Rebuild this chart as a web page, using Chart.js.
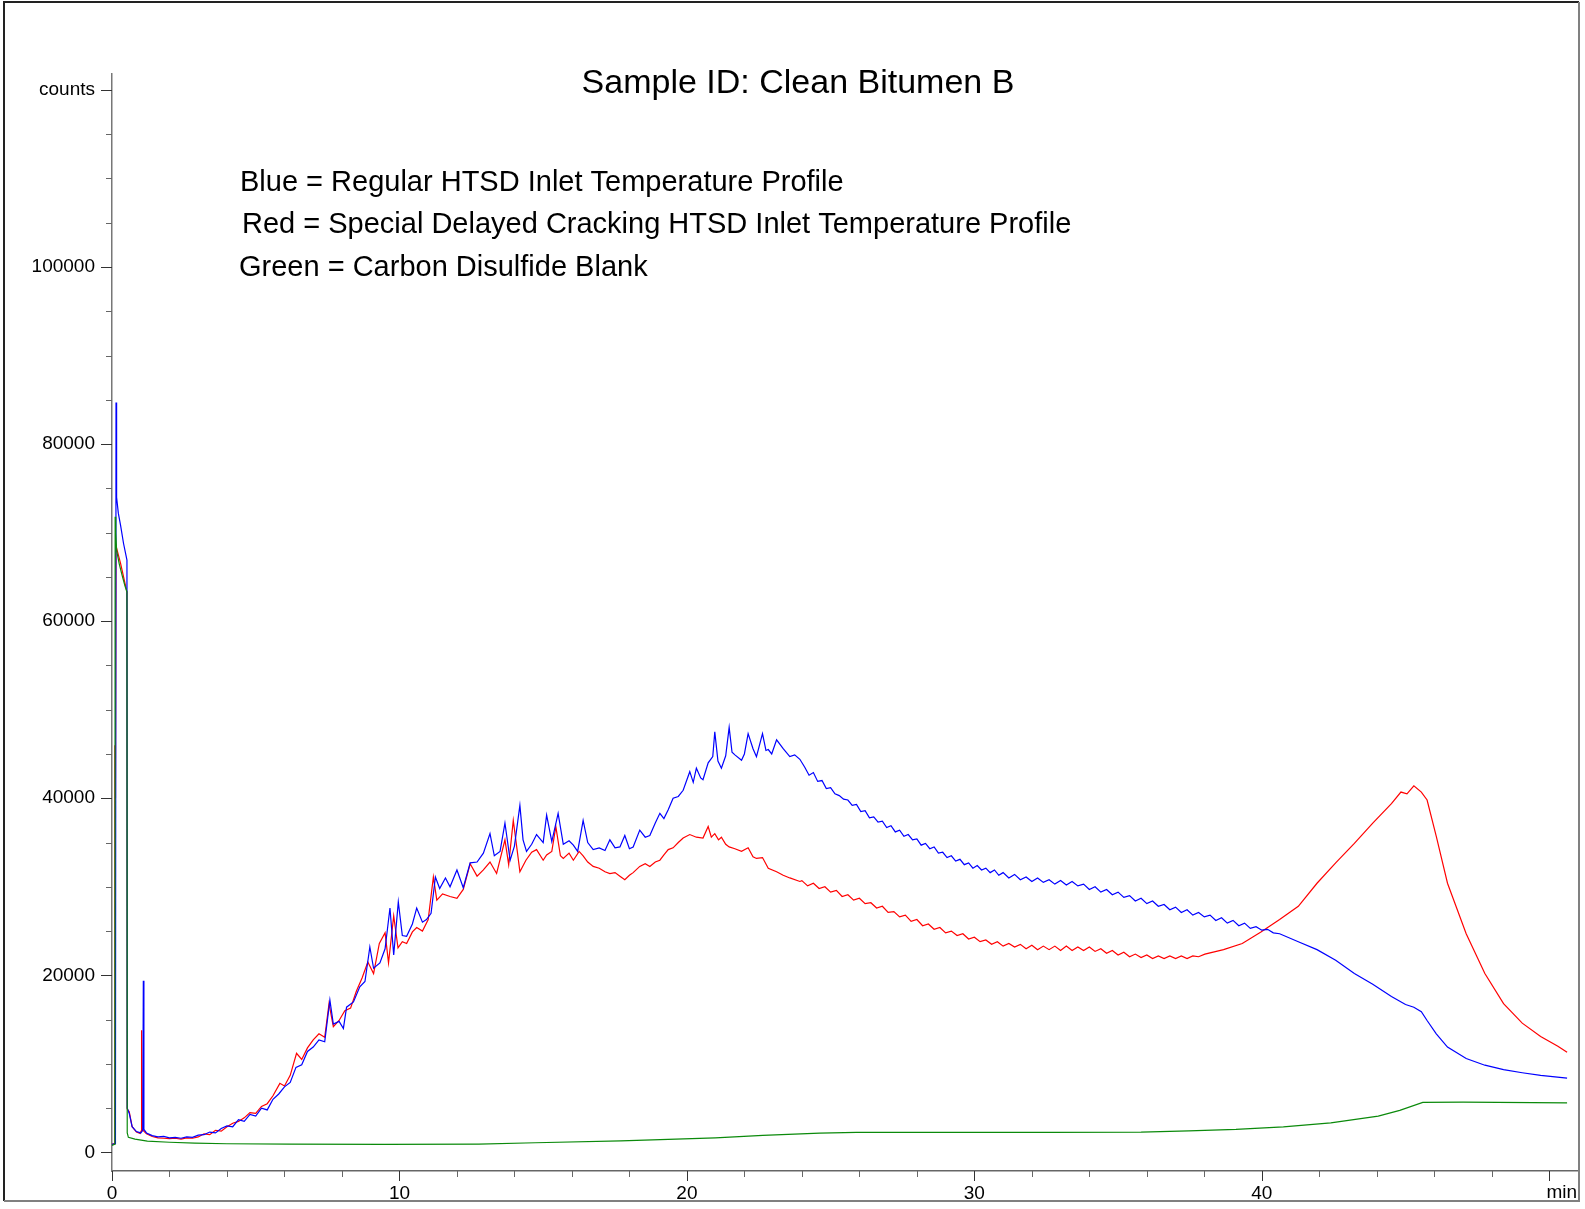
<!DOCTYPE html>
<html>
<head>
<meta charset="utf-8">
<script src="https://cdn.jsdelivr.net/npm/chart.js@4.4.0/dist/chart.umd.min.js"></script>
<style>
  html, body { margin: 0; padding: 0; background: #fff; }
  canvas { display: block; }
</style>
</head>
<body>
<canvas id="chart" width="1585" height="1209"></canvas>
<script>
// retention time (min) and detector counts
const blueTime = [
  0.00, 0.12, 0.14, 0.15, 0.17, 0.22, 0.30, 0.40, 0.52, 0.53, 0.60, 0.70, 0.85, 1.00, 1.07, 1.09, 1.11, 1.20,
  1.40, 1.60, 1.80, 2.00, 2.20, 2.40, 2.60, 2.80, 3.00, 3.20, 3.40, 3.60, 3.80, 4.00, 4.20, 4.40, 4.60, 4.80,
  5.00, 5.20, 5.40, 5.60, 5.80, 6.00, 6.20, 6.40, 6.60, 6.80, 7.00, 7.20, 7.40, 7.58, 7.70, 7.90, 8.05, 8.16,
  8.40, 8.62, 8.80, 8.97, 9.10, 9.32, 9.50, 9.67, 9.80, 9.96, 10.10, 10.25, 10.45, 10.60, 10.80, 10.94, 11.10,
  11.25, 11.40, 11.60, 11.76, 12.00, 12.22, 12.46, 12.70, 12.92, 13.15, 13.30, 13.50, 13.67, 13.85, 14.00,
  14.19, 14.30, 14.42, 14.60, 14.77, 15.00, 15.12, 15.30, 15.52, 15.70, 15.90, 16.05, 16.20, 16.39, 16.55,
  16.74, 16.95, 17.15, 17.32, 17.50, 17.67, 17.84, 18.00, 18.13, 18.36, 18.55, 18.71, 18.90, 19.06, 19.20,
  19.35, 19.52, 19.70, 19.87, 20.10, 20.22, 20.33, 20.48, 20.56, 20.74, 20.90, 20.97, 21.08, 21.20, 21.35,
  21.47, 21.57, 21.67, 21.90, 22.00, 22.13, 22.30, 22.42, 22.63, 22.75, 22.83, 22.95, 23.12, 23.35, 23.58,
  23.75, 23.93,
  24.10, 24.25, 24.40, 24.55, 24.70, 24.85, 25.00, 25.15, 25.30, 25.45, 25.60, 25.75, 25.90, 26.05, 26.20,
  26.35, 26.50, 26.65, 26.80, 26.95, 27.10, 27.25, 27.40, 27.55, 27.70, 27.85, 28.00, 28.15, 28.30, 28.45,
  28.60, 28.75, 28.90, 29.05, 29.20, 29.35, 29.50, 29.65, 29.80, 29.95, 30.10, 30.25, 30.40, 30.55, 30.70,
  30.85, 31.00, 31.20, 31.40, 31.60, 31.80, 32.00, 32.20, 32.40, 32.60, 32.80, 33.00, 33.20, 33.40, 33.60,
  33.80, 34.00, 34.20, 34.40, 34.60, 34.80, 35.00, 35.20, 35.40, 35.60, 35.80, 36.00, 36.20, 36.40, 36.60,
  36.80, 37.00, 37.20, 37.40, 37.60, 37.80, 38.00, 38.20, 38.40, 38.60, 38.80, 39.00, 39.20, 39.40, 39.60,
  39.80, 40.00, 40.20, 40.40, 40.62,
  41.27, 41.92, 42.57, 43.22, 43.86, 44.51, 45.00, 45.29, 45.55, 45.75, 46.07, 46.46, 47.11, 47.76, 48.41,
  49.06, 49.70, 50.62
];
const blueCounts = [
  900, 1000, 84700, 81700, 74000, 72200, 70800, 68800, 66900, 5000, 4400, 2900, 2350, 2200, 2500, 19400, 2600, 2200,
  1900, 1750, 1800, 1650, 1700, 1600, 1750, 1700, 1950, 2000, 2300, 2200, 2700, 3000, 2900, 3700, 3500, 4300,
  4100, 5000, 4800, 6000, 6600, 7400, 7900, 9600, 9900, 11400, 11900, 12700, 12500, 17200, 14500, 14800, 14000, 16400,
  17000, 18700, 19300, 23200, 20800, 21400, 23000, 27600, 22300, 28300, 24500, 24400, 25800, 27600, 26000, 26300, 27000,
  31100, 29800, 31000, 30000, 31900, 29900, 32700, 32800, 33800, 36000, 33500, 34000, 37200, 33000, 34600,
  39200, 35300, 34000, 34800, 35900, 35000, 38100, 35100, 38300, 34800, 35200, 34700, 34000, 37500, 35000,
  34200, 34400, 34100, 35300, 34400, 34500, 35800, 34300, 34500, 36400, 35600, 35800, 37200, 38300, 37700,
  38700, 40000, 40200, 40900, 43000, 41800, 43400, 42300, 42100, 44000, 44700, 47500, 44200, 43400, 44800,
  48000, 45200, 44900, 44300, 45000, 47300, 45600, 44700, 47300, 45400, 45500, 45000, 46600, 45600, 44700,
  44900, 44400,
  43500, 42600, 42900, 41900, 42000, 41100, 41200, 40500, 40300, 39900, 39800, 39200, 39300, 38500, 38600,
  37800, 37900, 37300, 37400, 36700, 36900, 36200, 36400, 35700, 35900, 35300, 35400, 34700, 34900, 34300,
  34500, 33800, 33900, 33300, 33500, 32900, 33100, 32500, 32700, 32100, 32400, 31900, 32100, 31600, 31900,
  31300, 31600, 31000, 31400, 30800, 31100, 30600, 31000, 30500, 30800, 30300, 30700, 30200, 30600, 30100,
  30300, 29700, 30000, 29400, 29700, 29100, 29400, 28800, 29000, 28400, 28700, 28100, 28400, 27800, 28000,
  27400, 27700, 27100, 27400, 26800, 27100, 26600, 26800, 26200, 26500, 25900, 26200, 25600, 25900, 25300,
  25500, 25100, 25200, 24800, 24700,
  23800, 22900, 21700, 20200, 19000, 17600, 16700, 16400, 15900, 14900, 13400, 11900, 10600, 9850, 9350,
  9000, 8700, 8400
];

const redTime = [
  0.00, 0.08, 0.10, 0.12, 0.14, 0.30, 0.52, 0.53, 0.60, 0.70, 0.85, 0.98, 1.01, 1.03, 1.05, 1.20,
  1.40, 1.60, 1.80, 2.00, 2.20, 2.40, 2.60, 2.80, 3.00, 3.20, 3.40, 3.60, 3.80, 4.00, 4.20, 4.40, 4.60, 4.80,
  5.00, 5.20, 5.40, 5.60, 5.84, 6.00, 6.20, 6.42, 6.60, 6.80, 7.00, 7.20, 7.40, 7.55, 7.70, 7.90, 8.10, 8.30,
  8.50, 8.70, 8.90, 9.10, 9.30, 9.50, 9.62, 9.80, 9.95, 10.10, 10.25, 10.45, 10.60, 10.80, 11.00, 11.18, 11.30,
  11.50, 11.76, 12.00, 12.22, 12.46, 12.70, 12.92, 13.15, 13.38, 13.67, 13.80, 13.96, 14.10, 14.19, 14.40,
  14.60, 14.77, 15.00, 15.12, 15.30, 15.44, 15.60, 15.70, 15.90, 16.05, 16.25, 16.39, 16.55, 16.74, 16.95,
  17.15, 17.32, 17.50, 17.67, 17.84, 18.00, 18.13, 18.36, 18.55, 18.71, 18.90, 19.06, 19.20, 19.35, 19.52,
  19.70, 19.87, 20.10, 20.33, 20.56, 20.74, 20.85, 20.97, 21.10, 21.20, 21.35, 21.47, 21.67, 21.90, 22.13,
  22.30, 22.42, 22.63, 22.83, 23.12, 23.35, 23.58, 23.93,
  24.00, 24.20, 24.40, 24.60, 24.80, 25.00, 25.20, 25.40, 25.60, 25.80, 26.00, 26.20, 26.40, 26.60, 26.80,
  27.00, 27.20, 27.40, 27.60, 27.80, 28.00, 28.20, 28.40, 28.60, 28.80, 29.00, 29.20, 29.40, 29.60, 29.80,
  30.00, 30.20, 30.40, 30.60, 30.80, 31.00, 31.20, 31.40, 31.60, 31.80, 32.00, 32.20, 32.40, 32.60, 32.80,
  33.00, 33.20, 33.40, 33.60, 33.80, 34.00, 34.20, 34.40, 34.60, 34.80, 35.00, 35.20, 35.40, 35.60, 35.80,
  36.00, 36.20, 36.40, 36.60, 36.80, 37.00, 37.20, 37.40, 37.60, 37.80, 38.02,
  38.67, 39.32, 39.97, 40.62, 41.27, 41.92, 42.57, 43.22, 43.86, 44.51, 44.84, 45.05, 45.29,
  45.55, 45.75, 46.07, 46.46, 47.11, 47.76, 48.41, 49.06, 49.70, 50.30, 50.62
];
const redCounts = [
  900, 1000, 46000, 40000, 68500, 66500, 63300, 4900, 4600, 2900, 2300, 2150, 2400, 13800, 2600, 2100,
  1800, 1650, 1600, 1550, 1600, 1500, 1650, 1600, 1750, 2100, 2000, 2500, 2400, 2900, 3300, 3500, 3900, 4500,
  4400, 5200, 5500, 6400, 7800, 7500, 8700, 11200, 10500, 11800, 12700, 13400, 13000, 16800, 14200, 14900, 16000, 16300,
  18200, 19700, 21500, 20200, 23600, 24800, 21400, 26700, 23100, 23800, 23600, 24900, 25400, 25000, 26300, 31100, 28500,
  29200, 28900, 28700, 29700, 32600, 31200, 31900, 32800, 31500, 35300, 32500, 37500, 34000, 31700, 33000,
  33900, 34200, 33000, 33600, 34000, 36800, 33500, 33200, 33800, 33000, 34000, 33500, 32800, 32300, 32100,
  31700, 31500, 31600, 31200, 30800, 31300, 31600, 32300, 32600, 32300, 32800, 33000, 33600, 34200, 34400,
  35000, 35500, 35900, 35600, 35500, 36800, 35600, 36000, 35300, 35600, 34800, 34500, 34300, 34000, 34400,
  33400, 33200, 33300, 32100, 31700, 31300, 31000, 30600,
  30700, 30100, 30400, 29800, 30000, 29400, 29600, 28900, 29100, 28500, 28700, 28100, 28200, 27600, 27800,
  27100, 27200, 26600, 26800, 26100, 26300, 25600, 25800, 25200, 25400, 24800, 25000, 24500, 24700, 24100,
  24300, 23800, 24000, 23500, 23800, 23300, 23600, 23200, 23500, 23000, 23400, 22900, 23300, 22900, 23300,
  22800, 23300, 22800, 23200, 22800, 23200, 22700, 23000, 22500, 22800, 22300, 22600, 22100, 22400, 22000,
  22300, 21900, 22200, 21900, 22200, 21900, 22200, 21900, 22200, 22100, 22400,
  22900, 23600, 24900, 26300, 27800, 30400, 32700, 34900, 37200, 39400, 40700, 40500, 41400,
  40700, 39800, 35700, 30400, 24700, 20200, 16800, 14600, 13100, 12000, 11300
];

const greenTime = [
  0.00, 0.08, 0.10, 0.11, 0.13, 0.16, 0.25, 0.35, 0.45, 0.52, 0.53, 0.57, 0.80, 1.23, 2.00, 2.88, 4.00, 6.17,
  9.47, 12.76, 14.73, 17.70, 20.99, 22.64, 24.62, 25.90, 32.50, 35.80, 37.46, 39.10, 40.75, 42.40, 44.05,
  44.80, 45.60, 47.00, 50.62
];
const greenCounts = [
  800, 900, 1200, 71800, 70000, 68000, 66500, 65200, 64000, 63300, 2200, 1700, 1500, 1280, 1150, 1050, 980, 940,
  900, 940, 1090, 1310, 1650, 1920, 2180, 2260, 2260, 2300, 2440, 2600, 2890, 3340, 4100,
  4750, 5650, 5680, 5600
];

const xTicks = [0, 2, 4, 6, 8, 10, 12, 14, 16, 18, 20, 22, 24, 26, 28, 30, 32, 34, 36, 38, 40, 42, 44, 46, 48, 50];
const xLabels = {0: '0', 10: '10', 20: '20', 30: '30', 40: '40'};
const yTicks = [0, 5000, 10000, 15000, 20000, 25000, 30000, 35000, 40000, 45000, 50000, 55000, 60000,
  65000, 70000, 75000, 80000, 85000, 90000, 95000, 100000, 105000, 110000, 115000, 120000];
const yLabels = {0: '0', 20000: '20000', 40000: '40000', 60000: '60000', 80000: '80000', 100000: '100000', 120000: 'counts'};

const chartTitle = 'Sample ID: Clean Bitumen B';
const notes = [
  'Blue = Regular HTSD Inlet Temperature Profile',
  'Red = Special Delayed Cracking HTSD Inlet Temperature Profile',
  'Green = Carbon Disulfide Blank'
];

const FONT = '"Liberation Sans", Arial, sans-serif';

function points(ts, vs) {
  return ts.map((t, i) => ({x: t, y: vs[i]}));
}

const decor = {
  id: 'decor',
  afterDraw(chart) {
    const ctx = chart.ctx;
    const xs = chart.scales.x, ys = chart.scales.y;
    const area = chart.chartArea;
    ctx.save();

    // tick marks, long on labelled values
    ctx.lineWidth = 1;
    yTicks.forEach(v => {
      const py = Math.round(ys.getPixelForValue(v)) + 0.5;
      const len = v % 20000 === 0 ? 11 : 6;
      ctx.strokeStyle = v % 20000 === 0 ? '#333' : '#666';
      ctx.beginPath();
      ctx.moveTo(area.left - len, py);
      ctx.lineTo(area.left, py);
      ctx.stroke();
    });
    xTicks.forEach(v => {
      const px = Math.round(xs.getPixelForValue(v)) + 0.5;
      const len = v % 10 === 0 ? 10 : 6;
      ctx.strokeStyle = v % 10 === 0 ? '#333' : '#666';
      ctx.beginPath();
      ctx.moveTo(px, area.bottom);
      ctx.lineTo(px, area.bottom + len);
      ctx.stroke();
    });

    ctx.fillStyle = '#000';
    ctx.textBaseline = 'middle';
    ctx.font = '34px ' + FONT;
    ctx.textAlign = 'center';
    ctx.fillText(chartTitle, 798, 84);

    ctx.font = '29px ' + FONT;
    ctx.textAlign = 'left';
    ctx.fillText(notes[0], 240, 183);
    ctx.fillText(notes[1], 242, 225);
    ctx.fillText(notes[2], 239, 268);

    ctx.font = '19px ' + FONT;
    ctx.textAlign = 'right';
    ctx.fillText('min', 1577, 1193);

    // outer frame
    ctx.lineWidth = 2;
    ctx.strokeStyle = '#222';
    ctx.beginPath();
    ctx.moveTo(4, 1201);
    ctx.lineTo(4, 2);
    ctx.lineTo(1579, 2);
    ctx.stroke();
    ctx.strokeStyle = '#808080';
    ctx.beginPath();
    ctx.moveTo(1579, 2);
    ctx.lineTo(1579, 1201);
    ctx.lineTo(4, 1201);
    ctx.stroke();
    ctx.restore();
  }
};

new Chart(document.getElementById('chart'), {
  type: 'line',
  data: {
    datasets: [
      {
        label: 'Green',
        data: points(greenTime, greenCounts),
        borderColor: '#0b8a0b',
        borderWidth: 1.2,
        pointRadius: 0,
        tension: 0
      },
      {
        label: 'Blue',
        data: points(blueTime, blueCounts),
        borderColor: '#0000ff',
        borderWidth: 1.2,
        pointRadius: 0,
        tension: 0
      },
      {
        label: 'Red',
        data: points(redTime, redCounts),
        borderColor: '#ff0000',
        borderWidth: 1.2,
        pointRadius: 0,
        tension: 0
      }
    ]
  },
  options: {
    responsive: false,
    animation: false,
    events: [],
    layout: {padding: {left: 0, right: 7, top: 74, bottom: 0}},
    plugins: {
      legend: {display: false},
      tooltip: {enabled: false},
      title: {display: false}
    },
    scales: {
      x: {
        type: 'linear',
        min: 0,
        max: 51,
        grid: {display: false},
        border: {display: true, color: '#666', width: 1.5},
        afterBuildTicks: s => { s.ticks = xTicks.map(v => ({value: v})); },
        afterFit: s => { s.height = 38; },
        ticks: {
          autoSkip: false,
          maxRotation: 0,
          padding: 3,
          color: '#000',
          font: {family: FONT, size: 19},
          callback: v => xLabels[v] ?? ''
        }
      },
      y: {
        type: 'linear',
        min: -2100,
        max: 121800,
        grid: {display: false},
        border: {display: true, color: '#777', width: 1.5},
        afterBuildTicks: s => { s.ticks = yTicks.map(v => ({value: v})); },
        afterFit: s => { s.width = 112; },
        ticks: {
          autoSkip: false,
          padding: 9,
          color: '#000',
          font: {family: FONT, size: 19},
          callback: v => yLabels[v] ?? ''
        }
      }
    }
  },
  plugins: [decor]
});
</script>
</body>
</html>
